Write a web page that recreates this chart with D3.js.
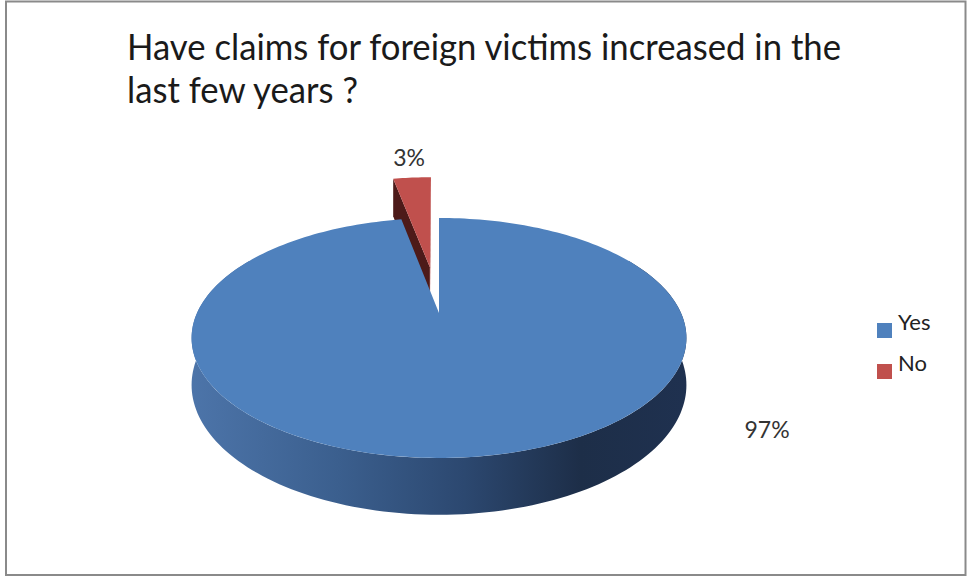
<!DOCTYPE html>
<html>
<head>
<meta charset="utf-8">
<script src="https://cdn.jsdelivr.net/npm/d3@7"></script>
<style>
  html, body { margin: 0; padding: 0; background: #fff; }
  svg { display: block; }
</style>
</head>
<body>
<script>
// Survey answers
const categories = ["Yes", "No"];
const values = [97, 3];
const titleLines = ["Have claims for foreign victims increased in the", "last few years ?"];

// Layout / style
const W = 968, H = 577;
const fontFamily = "Lato, 'Open Sans', sans-serif";
const sliceStyle = {
  Yes: { top: "#4f81bd", explode: 0, persp: 0.208, labelAngle: 127, labelRadius: 1.40 },
  No:  { top: "#c0504d", cutLeft: "#4d1a19", cutRight: "#b14845", explode: 0.425, persp: 0.143 }
};

// 3D disc projection: u to the right, v toward the viewer (unit = radius), z = depth down
const CX = 439, CY = 313, RX = 242, RY = 114.8, PERSP = 0.208, DEPTH = 45;
function proj(u, v, z, persp = PERSP) {
  const w = 1 - persp * v;
  return [CX + RX * u / w, CY + RY * v / w + DEPTH * z / w];
}

const svg = d3.select("body").append("svg")
  .attr("width", W).attr("height", H);

// Chart frame
svg.append("rect")
  .attr("x", 6).attr("y", 1.5)
  .attr("width", 959.5).attr("height", 573.5)
  .attr("fill", "#fff")
  .attr("stroke", "#8a8a8a").attr("stroke-width", 2);

// Title
const titleG = svg.append("g").attr("font-family", fontFamily).attr("fill", "#1a1a1a");
const titleWidths = [714, 231];
titleLines.forEach((line, i) => {
  const t = titleG.append("text")
    .attr("x", 127).attr("y", 60 + i * 43)
    .attr("font-size", 36)
    .text(line);
  const natural = t.node().getComputedTextLength();
  if (Math.abs(natural - titleWidths[i]) > 2) {
    t.attr("textLength", titleWidths[i]).attr("lengthAdjust", "spacingAndGlyphs");
  }
});

// Pie layout (angles start at 12 o'clock, clockwise)
const data = categories.map((c, i) => ({ name: c, value: values[i] }));
const arcs = d3.pie().sort(null).value(d => d.value)(data);

function slicePoint(arc, angle, r, z) {
  const st = sliceStyle[arc.data.name];
  const mid = (arc.startAngle + arc.endAngle) / 2;
  const ou = st.explode * Math.sin(mid), ov = -st.explode * Math.cos(mid);
  return proj(ou + r * Math.sin(angle), ov - r * Math.cos(angle), z, st.persp);
}
function rimPoints(arc, a0, a1, z, n) {
  return d3.range(n + 1).map(i => slicePoint(arc, a0 + (a1 - a0) * i / n, 1, z));
}
const line = d3.line();

// Side gradient for the rim of the large slice
const defs = svg.append("defs");
const grad = defs.append("linearGradient")
  .attr("id", "rimGrad").attr("gradientUnits", "userSpaceOnUse")
  .attr("x1", proj(-1, 0.2, 0)[0]).attr("x2", proj(1, 0.2, 0)[0])
  .attr("y1", 0).attr("y2", 0);
[[0, "#4d75aa"], [0.3, "#3b5f8e"], [0.55, "#2c4870"], [0.78, "#1d2e48"], [1, "#1f3150"]]
  .forEach(([o, c]) => grad.append("stop").attr("offset", o).attr("stop-color", c));

const pieG = svg.append("g");

// Exploded small slice (sits behind)
arcs.filter(a => a.data.name === "No").forEach(a => {
  const st = sliceStyle.No;
  const face = (ang, col) => pieG.append("path")
    .attr("d", line([slicePoint(a, ang, 0, 0), slicePoint(a, ang, 1, 0),
                     slicePoint(a, ang, 1, 1), slicePoint(a, ang, 0, 1)]) + "Z")
    .attr("fill", col);
  face(a.startAngle, st.cutLeft);
  face(a.endAngle, st.cutRight);
  pieG.append("path")
    .attr("d", line([slicePoint(a, 0, 0, 0)].concat(rimPoints(a, a.startAngle, a.endAngle, 0, 12))) + "Z")
    .attr("fill", st.top);
});

// Large slice: front rim band, then top face
arcs.filter(a => a.data.name === "Yes").forEach(a => {
  const st = sliceStyle.Yes;
  const f0 = Math.max(a.startAngle, Math.PI / 3), f1 = Math.min(a.endAngle, 5 * Math.PI / 3);
  const topRim = rimPoints(a, f0, f1, 0, 160);
  const botRim = rimPoints(a, f0, f1, 1, 160).reverse();
  pieG.append("path")
    .attr("d", line(topRim.concat(botRim)) + "Z")
    .attr("fill", "url(#rimGrad)");
  pieG.append("path")
    .attr("d", line([slicePoint(a, 0, 0, 0)].concat(rimPoints(a, a.startAngle, a.endAngle, 0, 240))) + "Z")
    .attr("fill", st.top);
});

// Value labels
const labelG = svg.append("g").attr("font-family", fontFamily).attr("font-size", 23).attr("fill", "#333");
arcs.forEach(a => {
  const st = sliceStyle[a.data.name];
  const txt = a.data.value + "%";
  if (st.explode > 0) {
    const mid = (a.startAngle + a.endAngle) / 2;
    const p = slicePoint(a, mid, 1, 0);
    labelG.append("text").attr("x", p[0] - 3).attr("y", p[1] - 12)
      .attr("text-anchor", "middle").text(txt);
  } else {
    const ang = st.labelAngle * Math.PI / 180;
    const p = proj(st.labelRadius * Math.sin(ang), -st.labelRadius * Math.cos(ang), 0);
    labelG.append("text").attr("x", p[0]).attr("y", p[1] + 8)
      .attr("text-anchor", "middle").text(txt);
  }
});

// Legend
const legendY = d3.scaleBand().domain(categories).range([309, 391]);
const legend = svg.append("g").attr("font-family", fontFamily).attr("font-size", 22).attr("fill", "#222");
categories.forEach(c => {
  const y = legendY(c);
  legend.append("rect").attr("x", 877).attr("y", y + 14).attr("width", 15).attr("height", 15)
    .attr("fill", sliceStyle[c].top);
  legend.append("text").attr("x", 898).attr("y", y + 21).text(c);
});
</script>
</body>
</html>
